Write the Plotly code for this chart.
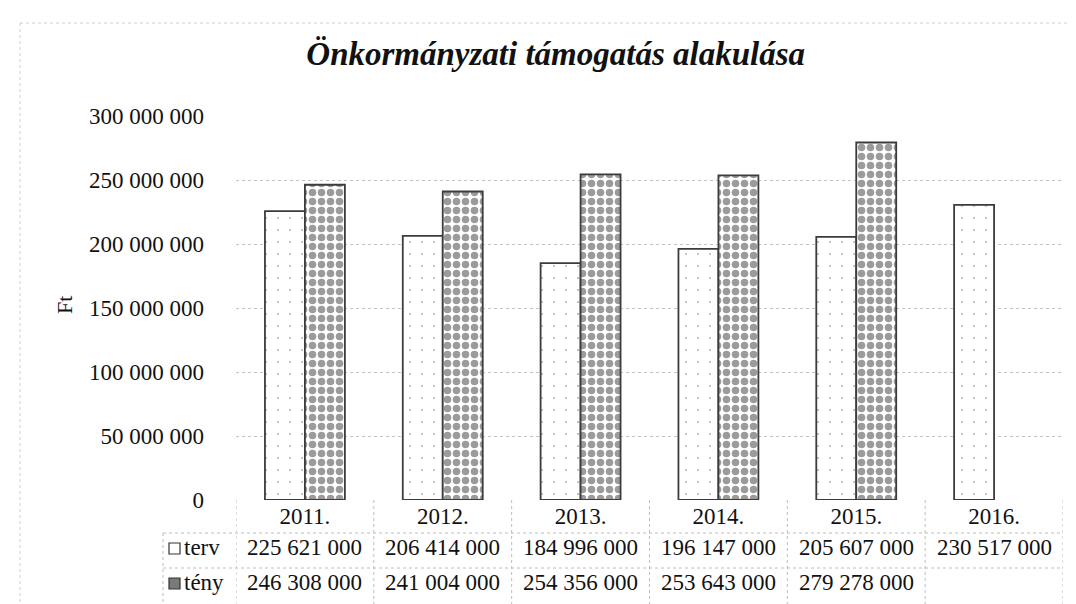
import plotly.graph_objects as go

# ---- data ----
years = ["2011.", "2012.", "2013.", "2014.", "2015.", "2016."]
terv = [225621000, 206414000, 184996000, 196147000, 205607000, 230517000]
teny = [246308000, 241004000, 254356000, 253643000, 279278000, None]
series_names = ["terv", "tény"]
title_text = "Önkormányzati támogatás alakulása"
y_title = "Ft"
y_ticks = [0, 50000000, 100000000, 150000000, 200000000, 250000000, 300000000]

FONT = "Liberation Serif, Times New Roman, serif"
W, H = 1076, 604
L, R, T, B = 228, 21, 108, 112
PW, PH = W - L - R, H - T - B


def px_x(p):
    return (p - L) / PW


def px_y(p):
    return (H - B - p) / PH


def fmt(v):
    return "" if v is None else f"{v:,}".replace(",", " ")


fig = go.Figure()
fig.add_trace(go.Bar(
    x=years, y=terv, name=series_names[0],
    marker=dict(color="white", line=dict(color="#3c3c3c", width=1.8),
                pattern=dict(shape=".", size=12, solidity=0.025,
                             fgcolor="#6a6a6a", bgcolor="white")),
))
fig.add_trace(go.Bar(
    x=years, y=teny, name=series_names[1],
    marker=dict(color="white", line=dict(color="#3c3c3c", width=1.8),
                pattern=dict(shape=".", size=9, solidity=0.55,
                             fgcolor="#383838", bgcolor="white")),
))

shapes = []
dot = dict(color="#bdbdbd", width=1, dash="dot")
n = len(years)
# data table vertical lines at category boundaries
for i in range(n + 1):
    shapes.append(dict(type="line", xref="x", yref="paper",
                       x0=i - 0.5, x1=i - 0.5, y0=0, y1=px_y(597), line=dot))
# data table horizontal lines
for yy in (525, 560, 597):
    shapes.append(dict(type="line", xref="paper", yref="paper",
                       x0=px_x(155), x1=1, y0=px_y(yy), y1=px_y(yy), line=dot))
shapes.append(dict(type="line", xref="paper", yref="paper",
                   x0=px_x(155), x1=px_x(155), y0=px_y(525), y1=px_y(597), line=dot))
# outer faint border
shapes.append(dict(type="line", xref="paper", yref="paper",
                   x0=px_x(12), x1=px_x(1076), y0=px_y(15), y1=px_y(15),
                   line=dict(color="#cfcfcf", width=1, dash="dot")))
shapes.append(dict(type="line", xref="paper", yref="paper",
                   x0=px_x(12), x1=px_x(12), y0=px_y(15), y1=px_y(604),
                   line=dict(color="#cfcfcf", width=1, dash="dot")))
# legend keys in table
shapes.append(dict(type="rect", xref="paper", yref="paper",
                   x0=px_x(161), x1=px_x(172), y0=px_y(546), y1=px_y(535),
                   fillcolor="white", line=dict(color="#333333", width=1.2)))
shapes.append(dict(type="rect", xref="paper", yref="paper",
                   x0=px_x(161), x1=px_x(172), y0=px_y(581), y1=px_y(570),
                   fillcolor="#7a7a7a", line=dict(color="#333333", width=1.2)))

annotations = []
rows = [(terv, 539), (teny, 574)]
for vals, yy in rows:
    for i, v in enumerate(vals):
        if v is None:
            continue
        annotations.append(dict(x=i, xref="x", y=px_y(yy), yref="paper",
                                text=fmt(v), showarrow=False,
                                xanchor="center", yanchor="middle",
                                font=dict(family=FONT, size=23, color="#111111")))
for name, yy in zip(series_names, (539, 574)):
    annotations.append(dict(x=px_x(174), xref="paper", y=px_y(yy), yref="paper",
                            text=name, showarrow=False,
                            xanchor="left", yanchor="middle",
                            font=dict(family=FONT, size=23, color="#111111")))
annotations.append(dict(x=px_x(56), xref="paper", y=px_y(297), yref="paper",
                        text=y_title, showarrow=False, textangle=-90,
                        xanchor="center", yanchor="middle",
                        font=dict(family=FONT, size=22, color="#111111")))

fig.update_layout(
    width=W, height=H,
    margin=dict(l=L, r=R, t=T, b=B, autoexpand=False),
    paper_bgcolor="white", plot_bgcolor="white",
    separators=", ",
    barmode="group", bargap=0.42, bargroupgap=0,
    showlegend=False,
    title=dict(text=title_text, x=0.509, xanchor="center",
               y=1 - 45 / H, yanchor="middle", xref="container", yref="container",
               font=dict(family=FONT, size=33, color="#111111",
                         weight="bold", style="italic")),
    shapes=shapes,
    annotations=annotations,
)
fig.update_yaxes(range=[0, 300000000], tickvals=y_ticks, tickformat=",d",
                 showgrid=True, gridcolor="#c4c4c4", griddash="dot", gridwidth=1,
                 zeroline=False, showline=False, ticks="",
                 ticklabelstandoff=31,
                 tickfont=dict(family=FONT, size=23, color="#111111"))
fig.update_xaxes(type="category", categoryorder="array", categoryarray=years,
                 range=[-0.5, n - 0.5],
                 showgrid=False, zeroline=False, showline=False, ticks="",
                 ticklabelstandoff=0,
                 tickfont=dict(family=FONT, size=23, color="#111111"))

fig.write_html("out.html")
